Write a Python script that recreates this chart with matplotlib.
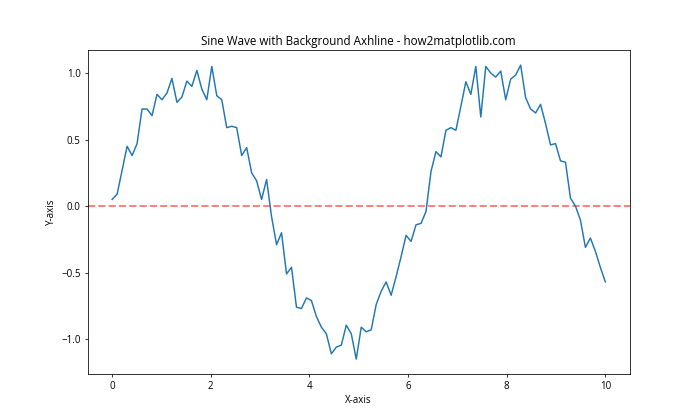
import numpy as np
import matplotlib
matplotlib.use('Agg')
import matplotlib.pyplot as plt

plt.rcParams['font.family'] = ['Open Sans', 'DejaVu Sans']

# noisy sine samples (100 points, x from 0 to 10)
x = np.linspace(0, 10, 100)
y = [
    0.05, 0.09, 0.27, 0.45, 0.38, 0.47, 0.73, 0.73, 0.68, 0.84,
    0.80, 0.85, 0.96, 0.78, 0.82, 0.94, 0.90, 1.02, 0.88, 0.80,
    1.05, 0.83, 0.80, 0.59, 0.60, 0.59, 0.38, 0.44, 0.25, 0.19,
    0.05, 0.20, -0.08, -0.29, -0.20, -0.51, -0.46, -0.76, -0.77, -0.69,
    -0.71, -0.83, -0.91, -0.96, -1.11, -1.06, -1.045, -0.895, -0.96, -1.15,
    -0.91, -0.945, -0.93, -0.74, -0.64, -0.57, -0.67, -0.53, -0.38, -0.22,
    -0.265, -0.14, -0.13, -0.04, 0.26, 0.41, 0.37, 0.57, 0.59, 0.57,
    0.75, 0.935, 0.84, 1.05, 0.67, 1.05, 1.00, 0.97, 1.015, 0.80,
    0.955, 0.985, 1.06, 0.815, 0.73, 0.70, 0.765, 0.62, 0.46, 0.47,
    0.34, 0.33, 0.06, 0.00, -0.105, -0.31, -0.24, -0.34, -0.46, -0.57,
]

fig, ax = plt.subplots(figsize=(10, 6), dpi=70)
ax.axhline(y=0, color='red', linestyle='--', linewidth=2, alpha=0.5, zorder=0)
ax.plot(x, y)
ax.set_title('Sine Wave with Background Axhline - how2matplotlib.com')
ax.set_xlabel('X-axis')
ax.set_ylabel('Y-axis')
plt.savefig('out.png')
